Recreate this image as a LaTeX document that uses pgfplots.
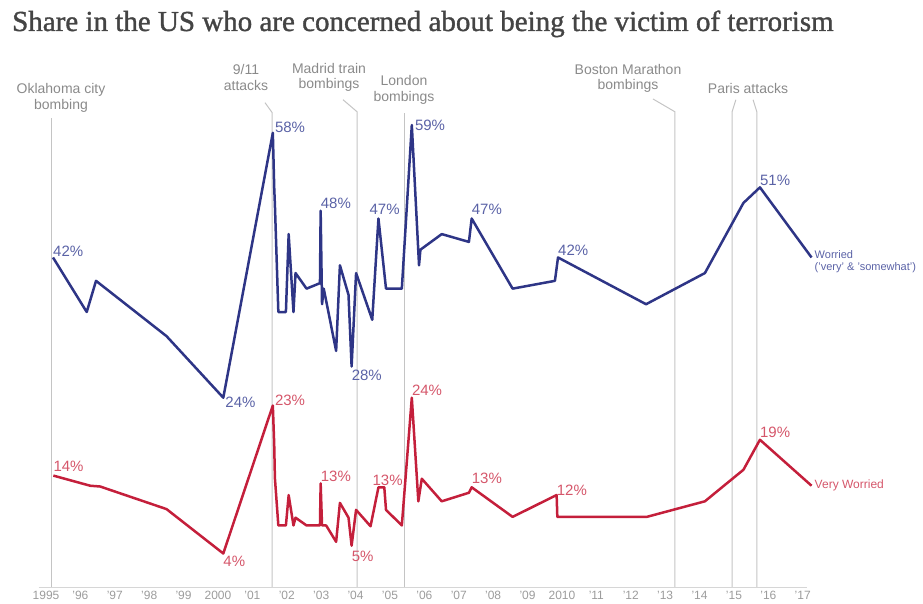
\documentclass[border=0pt]{standalone}
\usepackage{pgfplots}
\pgfplotsset{compat=1.18}
\usepackage{fontspec}
\setmainfont{Liberation Sans}
\newfontfamily\titlefont[FakeBold=1.2]{Liberation Serif}
\definecolor{navy}{HTML}{2E3586}
\definecolor{navylab}{HTML}{5A62A6}
\definecolor{crim}{HTML}{C41F3B}
\definecolor{crimlab}{HTML}{D5566A}
\definecolor{evgray}{HTML}{C4C4C4}
\definecolor{txtgray}{HTML}{8A8A8A}
\definecolor{titlegray}{HTML}{444444}
\tikzset{
  pctb/.style={anchor=base west, inner sep=0, text=navylab, font=\fontsize{15}{16}\selectfont},
  pctr/.style={anchor=base west, inner sep=0, text=crimlab, font=\fontsize{15}{16}\selectfont},
}
\begin{document}
\begin{tikzpicture}[x=1pt,y=1pt]
\useasboundingbox (0,0) rectangle (923,604);
\node[anchor=base west, inner sep=0, text=titlegray] at (12,573) {\titlefont\fontsize{29}{34}\selectfont Share in the US who are concerned about being the victim of terrorism};
\begin{axis}[
  at={(30pt,17pt)}, anchor=south west, scale only axis,
  width=790pt, height=487.65pt,
  xmin=1994.651, xmax=2017.616, ymin=-0.3, ymax=62.3,
  axis x line*=bottom, axis y line=none,
  x axis line style={draw=none},
  xtick={1995,...,2017},
  xticklabels={1995,'96,'97,'98,'99,2000,'01,'02,'03,'04,'05,'06,'07,'08,'09,2010,'11,'12,'13,'14,'15,'16,'17},
  major tick length=0pt, xtick style={draw=none},
  xticklabel style={font=\fontsize{12}{12}\selectfont, text=txtgray!85, xshift=4pt, yshift=-1pt},
  clip=false,
]
% baseline
\draw[evgray!70, line width=0.8pt] (axis cs:1994.9,-0.3) -- (axis cs:2017.23,-0.3);
% event lines
\draw[evgray, line width=1pt] (axis cs:1995.29,-0.3) -- (axis cs:1995.29,59.94);
\draw[evgray, line width=1pt] (axis cs:2001.69,-0.3) -- (axis cs:2001.69,60.6) -- (axis cs:2001.483,61.87);
\draw[evgray, line width=1pt] (axis cs:2004.16,-0.3) -- (axis cs:2004.16,60.7) -- (axis cs:2003.75,62.25);
\draw[evgray, line width=1pt] (axis cs:2005.55,-0.3) -- (axis cs:2005.55,60.6);
\draw[evgray, line width=1pt] (axis cs:2013.4,-0.3) -- (axis cs:2013.4,60.7) -- (axis cs:2012.76,62.35);
\draw[evgray, line width=1pt] (axis cs:2015.06,-0.3) -- (axis cs:2015.06,60.7) -- (axis cs:2015.17,62.25);
\draw[evgray, line width=1pt] (axis cs:2015.78,-0.3) -- (axis cs:2015.78,60.7) -- (axis cs:2015.67,62.25);

\addplot[navy, line width=2.5pt, line join=round, no marks] coordinates {
(1995.32,42) (1996.30,35) (1996.57,39) (1998.62,31.9) (2000.27,24)
(2001.71,58) (2001.75,51) (2001.77,48.8) (2001.87,35) (2002.09,35)
(2002.17,45) (2002.31,35) (2002.37,40) (2002.69,38) (2003.08,38.7)
(2003.10,48) (2003.14,36) (2003.19,38) (2003.55,30) (2003.66,41)
(2003.91,37.2) (2004.00,28) (2004.13,40) (2004.60,34) (2004.78,47)
(2005.00,38) (2005.46,38) (2005.75,59) (2005.96,41) (2006.00,43)
(2006.62,45) (2007.41,44) (2007.49,47) (2008.68,38) (2009.91,39)
(2010.00,42) (2012.56,36) (2014.27,40) (2015.39,49) (2015.87,51)
(2017.37,42)};

\addplot[crim, line width=2.5pt, line join=round, no marks] coordinates {
(1995.33,14) (1996.40,12.7) (1996.69,12.6) (1998.62,9.7) (2000.27,4)
(2001.71,23) (2001.75,18) (2001.77,13.7) (2001.87,7.6) (2002.09,7.6)
(2002.17,11.5) (2002.31,7.6) (2002.37,8.6) (2002.69,7.6) (2003.08,7.6)
(2003.10,13) (2003.14,7.6) (2003.26,7.6) (2003.55,5.5) (2003.66,10.5)
(2003.91,8.6) (2004.00,5) (2004.13,9.6) (2004.55,7.5) (2004.78,12.5)
(2004.95,12.5) (2005.00,9.6) (2005.46,7.6) (2005.75,24) (2005.94,10.7)
(2006.04,13.6) (2006.62,10.7) (2007.41,11.8) (2007.49,12.5) (2008.68,8.7)
(2009.91,11.4) (2009.96,11.5) (2009.98,8.7) (2012.58,8.7) (2014.27,10.7)
(2015.39,14.75) (2015.87,18.6) (2017.37,12.7)};

% blue labels
\node[pctb, yshift=1pt] at (axis cs:1995.32,42) {42\%};
\node[pctb, xshift=2pt, yshift=-10pt] at (axis cs:2000.27,24) {24\%};
\node[pctb, xshift=2pt] at (axis cs:2001.71,58) {58\%};
\node[pctb, yshift=2pt] at (axis cs:2003.10,48) {48\%};
\node[pctb, yshift=-14pt] at (axis cs:2004.00,28) {28\%};
\node[pctb, xshift=-9pt, yshift=4pt] at (axis cs:2004.78,47) {47\%};
\node[pctb, xshift=3pt, yshift=-5pt] at (axis cs:2005.75,59) {59\%};
\node[pctb, yshift=4pt] at (axis cs:2007.49,47) {47\%};
\node[pctb, yshift=2pt] at (axis cs:2010.00,42) {42\%};
\node[pctb, yshift=2pt] at (axis cs:2015.87,51) {51\%};
% red labels
\node[pctr, yshift=4pt] at (axis cs:1995.33,14) {14\%};
\node[pctr, yshift=-13pt] at (axis cs:2000.27,4) {4\%};
\node[pctr, xshift=2pt] at (axis cs:2001.71,23) {23\%};
\node[pctr, yshift=2pt] at (axis cs:2003.10,13) {13\%};
\node[pctr, yshift=-16pt] at (axis cs:2004.00,5) {5\%};
\node[pctr, xshift=-6pt, yshift=2pt] at (axis cs:2004.78,12.5) {13\%};
\node[pctr, yshift=2pt] at (axis cs:2005.75,24) {24\%};
\node[pctr, yshift=4pt] at (axis cs:2007.49,12.5) {13\%};
\node[pctr] at (axis cs:2009.96,11.5) {12\%};
\node[pctr, yshift=2pt] at (axis cs:2015.87,18.6) {19\%};
% end labels
\node[anchor=west, inner sep=0, xshift=3pt, yshift=-4pt, text=navylab, align=left, font=\fontsize{11}{12.5}\selectfont] at (axis cs:2017.37,42) {Worried\\('very' \& 'somewhat')};
\node[anchor=west, inner sep=0, xshift=3pt, text=crimlab, font=\fontsize{12}{12}\selectfont] at (axis cs:2017.37,12.7) {Very Worried};
\end{axis}
% event annotations
\begin{scope}[every node/.style={text=txtgray, align=center, inner sep=0, font=\fontsize{14}{15.5}\selectfont}]
\node at (61,506) {Oklahoma city\\bombing};
\node at (246,526.5) {9/11\\attacks};
\node at (329,526.5) {Madrid train\\bombings};
\node at (404,514) {London\\bombings};
\node at (628,525.5) {Boston Marathon\\bombings};
\node at (748,515) {Paris attacks};
\end{scope}
\end{tikzpicture}
\end{document}
